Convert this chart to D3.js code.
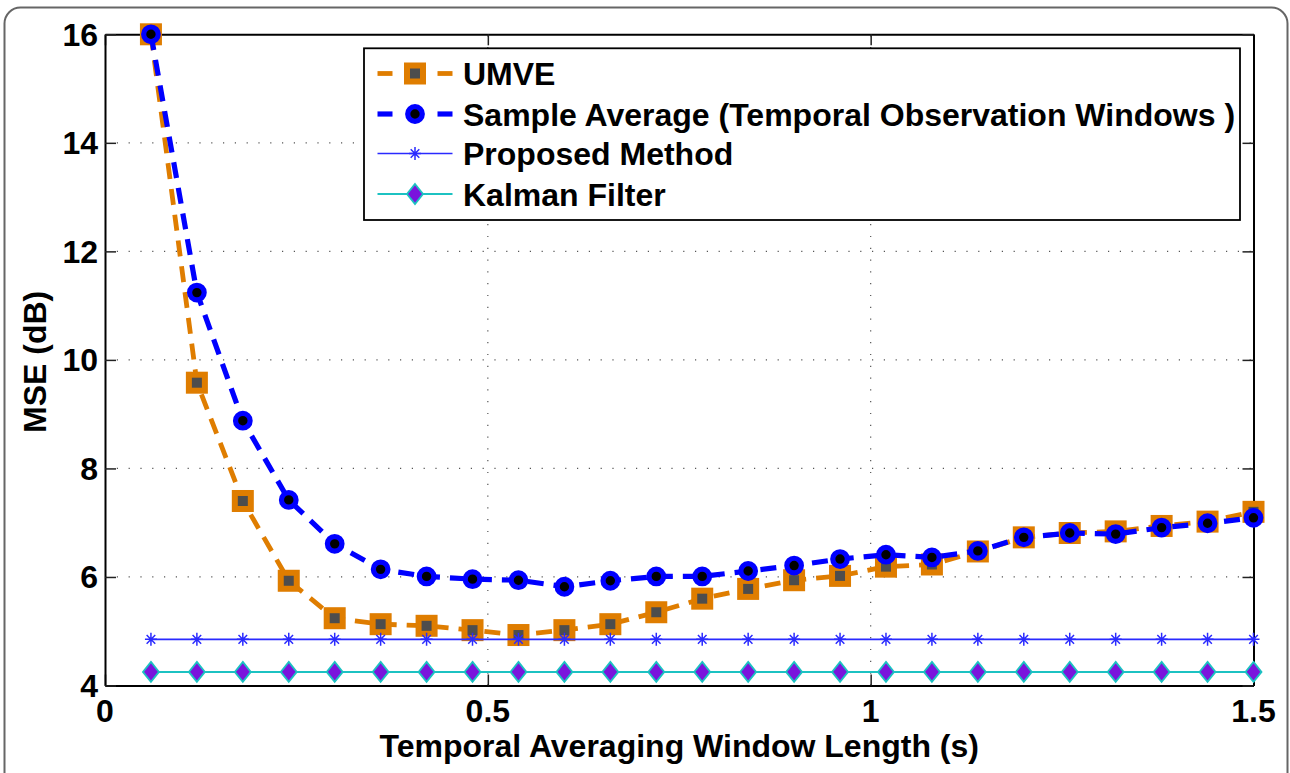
<!DOCTYPE html>
<html>
<head>
<meta charset="utf-8">
<script src="https://cdn.jsdelivr.net/npm/d3@7"></script>
<style>
  html, body { margin: 0; padding: 0; background: #fff; }
  svg { display: block; }
  text { font-family: "Liberation Sans", Arial, Helvetica, sans-serif; font-weight: bold; fill: #000; }
</style>
</head>
<body>
<svg id="chart" width="1290" height="773"></svg>
<script>
// Window lengths (s)
const windowLengths = [0.06, 0.12, 0.18, 0.24, 0.30, 0.36, 0.42, 0.48, 0.54, 0.60,
                       0.66, 0.72, 0.78, 0.84, 0.90, 0.96, 1.02, 1.08, 1.14, 1.20,
                       1.26, 1.32, 1.38, 1.44, 1.50];
// MSE (dB) per estimator
const umve = [16.00, 9.58, 7.40, 5.93, 5.24, 5.13, 5.10, 5.02, 4.93, 5.02,
              5.13, 5.35, 5.60, 5.78, 5.94, 6.02, 6.19, 6.23, 6.47, 6.73,
              6.81, 6.84, 6.94, 7.02, 7.20];
const sampleAverage = [16.00, 11.24, 8.88, 7.42, 6.61, 6.14, 6.01, 5.96, 5.94, 5.82,
                       5.93, 6.01, 6.01, 6.11, 6.21, 6.33, 6.41, 6.36, 6.48, 6.73,
                       6.81, 6.79, 6.91, 6.99, 7.09];
const proposed = [4.85, 4.85, 4.85, 4.85, 4.85, 4.85, 4.85, 4.85, 4.85, 4.85,
                  4.85, 4.85, 4.85, 4.85, 4.85, 4.85, 4.85, 4.85, 4.85, 4.85,
                  4.85, 4.85, 4.85, 4.85, 4.85];
const kalman = [4.25, 4.25, 4.25, 4.25, 4.25, 4.25, 4.25, 4.25, 4.25, 4.25,
                4.25, 4.25, 4.25, 4.25, 4.25, 4.25, 4.25, 4.25, 4.25, 4.25,
                4.25, 4.25, 4.25, 4.25, 4.25];
const seriesNames = ["UMVE", "Sample Average (Temporal Observation Windows )", "Proposed Method", "Kalman Filter"];
const xTicks = [0, 0.5, 1, 1.5];
const xTickLabels = ["0", "0.5", "1", "1.5"];
const yTicks = [4, 6, 8, 10, 12, 14, 16];
const yTickLabels = ["4", "6", "8", "10", "12", "14", "16"];
const xTitle = "Temporal Averaging Window Length (s)";
const yTitle = "MSE (dB)";

const svg = d3.select("#chart");
const plot = { left: 105, right: 1253.5, top: 34.3, bottom: 685.5 };
const x = d3.scaleLinear().domain([0, 1.5]).range([plot.left, plot.right]);
const y = d3.scaleLinear().domain([4, 16]).range([plot.bottom, plot.top]);

const ORANGE = "#df7d00", GRAY = "#4d4d4d", BLUE = "#0000ff",
      STARBLUE = "#2a2aff", PURPLE = "#7a14dc", CYAN = "#1cc2c2";
const FONT = 32;

// Figure frame
svg.append("rect")
  .attr("x", 4.5).attr("y", 7.5).attr("width", 1283).attr("height", 820)
  .attr("rx", 16).attr("ry", 16)
  .attr("fill", "none").attr("stroke", "#666").attr("stroke-width", 2);

// Dotted grid
const grid = svg.append("g").attr("stroke", "#555").attr("stroke-width", 1.2)
  .attr("stroke-dasharray", "1.2,10.6");
xTicks.filter(t => t > 0 && t < 1.5).forEach(t => {
  grid.append("line").attr("x1", x(t)).attr("x2", x(t))
    .attr("y1", plot.bottom).attr("y2", plot.top);
});
yTicks.filter(t => t > 4 && t < 16).forEach(t => {
  grid.append("line").attr("x1", plot.left).attr("x2", plot.right)
    .attr("y1", y(t)).attr("y2", y(t));
});

// Axes with inward ticks on all four sides
const tickLen = 11;
const xAxisB = d3.axisBottom(x).tickValues(xTicks).tickSize(-tickLen).tickSizeOuter(0).tickFormat("");
const xAxisT = d3.axisTop(x).tickValues(xTicks).tickSize(-tickLen).tickSizeOuter(0).tickFormat("");
const yAxisL = d3.axisLeft(y).tickValues(yTicks).tickSize(-tickLen).tickSizeOuter(0).tickFormat("");
const yAxisR = d3.axisRight(y).tickValues(yTicks).tickSize(-tickLen).tickSizeOuter(0).tickFormat("");
function styleAxis(g) {
  g.select(".domain").attr("stroke", "#000").attr("stroke-width", 2);
  g.selectAll(".tick line").attr("stroke", "#222").attr("stroke-width", 1.5);
}
svg.append("g").attr("transform", `translate(0,${plot.bottom})`).call(xAxisB).call(styleAxis);
svg.append("g").attr("transform", `translate(0,${plot.top})`).call(xAxisT).call(styleAxis);
svg.append("g").attr("transform", `translate(${plot.left},0)`).call(yAxisL).call(styleAxis);
svg.append("g").attr("transform", `translate(${plot.right},0)`).call(yAxisR).call(styleAxis);

// Tick labels
svg.append("g").selectAll("text").data(xTicks).join("text")
  .attr("x", d => x(d)).attr("y", 722)
  .attr("text-anchor", "middle").attr("font-size", FONT)
  .text((d, i) => xTickLabels[i]);
svg.append("g").selectAll("text").data(yTicks).join("text")
  .attr("x", 98).attr("y", d => y(d) + 11.5)
  .attr("text-anchor", "end").attr("font-size", FONT)
  .text((d, i) => yTickLabels[i]);

// Axis titles
svg.append("text").attr("x", (plot.left + plot.right) / 2).attr("y", 757)
  .attr("text-anchor", "middle").attr("font-size", FONT).text(xTitle);
svg.append("text").attr("transform", `translate(46,${(plot.top + plot.bottom) / 2 + 2}) rotate(-90)`)
  .attr("text-anchor", "middle").attr("font-size", FONT).text(yTitle);

// Marker painters
function squareMarker(g, cx, cy) {
  g.append("rect").attr("x", cx - 8).attr("y", cy - 8).attr("width", 16).attr("height", 16)
    .attr("fill", GRAY).attr("stroke", ORANGE).attr("stroke-width", 6);
}
function circleMarker(g, cx, cy) {
  g.append("circle").attr("cx", cx).attr("cy", cy).attr("r", 7.3)
    .attr("fill", "#000").attr("stroke", BLUE).attr("stroke-width", 5.2);
}
function starMarker(g, cx, cy) {
  const p = `M${cx},${cy - 6.5}L${cx},${cy + 6.5}M${cx - 6},${cy}L${cx + 6},${cy}` +
            `M${cx - 4.3},${cy - 4.3}L${cx + 4.3},${cy + 4.3}M${cx - 4.3},${cy + 4.3}L${cx + 4.3},${cy - 4.3}`;
  g.append("path").attr("d", p).attr("fill", "none").attr("stroke", STARBLUE).attr("stroke-width", 1.5);
}
function diamondMarker(g, cx, cy) {
  const p = `M${cx},${cy - 10}L${cx + 8},${cy}L${cx},${cy + 10}L${cx - 8},${cy}Z`;
  g.append("path").attr("d", p).attr("fill", PURPLE).attr("stroke", CYAN).attr("stroke-width", 1.8);
}

const series = [
  { values: umve, color: ORANGE, width: 4.8, dash: "16,10", marker: squareMarker },
  { values: sampleAverage, color: BLUE, width: 5.2, dash: "16,10", marker: circleMarker },
  { values: proposed, color: STARBLUE, width: 1.6, dash: null, marker: starMarker },
  { values: kalman, color: CYAN, width: 2, dash: null, marker: diamondMarker }
];

const line = d3.line().x(d => x(d[0])).y(d => y(d[1]));
series.forEach(s => {
  const g = svg.append("g");
  const pts = windowLengths.map((t, i) => [t, s.values[i]]);
  g.append("path").attr("d", line(pts)).attr("fill", "none")
    .attr("stroke", s.color).attr("stroke-width", s.width)
    .attr("stroke-dasharray", s.dash);
  pts.forEach(p => s.marker(g, x(p[0]), y(p[1])));
});

// Legend
const legend = svg.append("g");
legend.append("rect").attr("x", 364).attr("y", 48.3).attr("width", 876).attr("height", 171.7)
  .attr("fill", "#fff").attr("stroke", "#000").attr("stroke-width", 1.8);
const rowY = [73.5, 114, 153.5, 194];
series.forEach((s, i) => {
  const cy = rowY[i];
  if (s.dash) {
    [[377.5, 392.5], [437.5, 452.5]].forEach(([a, b]) => {
      legend.append("line").attr("x1", a).attr("x2", b).attr("y1", cy).attr("y2", cy)
        .attr("stroke", s.color).attr("stroke-width", s.width);
    });
  } else {
    legend.append("line").attr("x1", 377.5).attr("x2", 452.5).attr("y1", cy).attr("y2", cy)
      .attr("stroke", s.color).attr("stroke-width", s.width);
  }
  s.marker(legend, 415, cy);
  legend.append("text").attr("x", 463).attr("y", cy + 11.5).attr("font-size", FONT).text(seriesNames[i]);
});
</script>
</body>
</html>
